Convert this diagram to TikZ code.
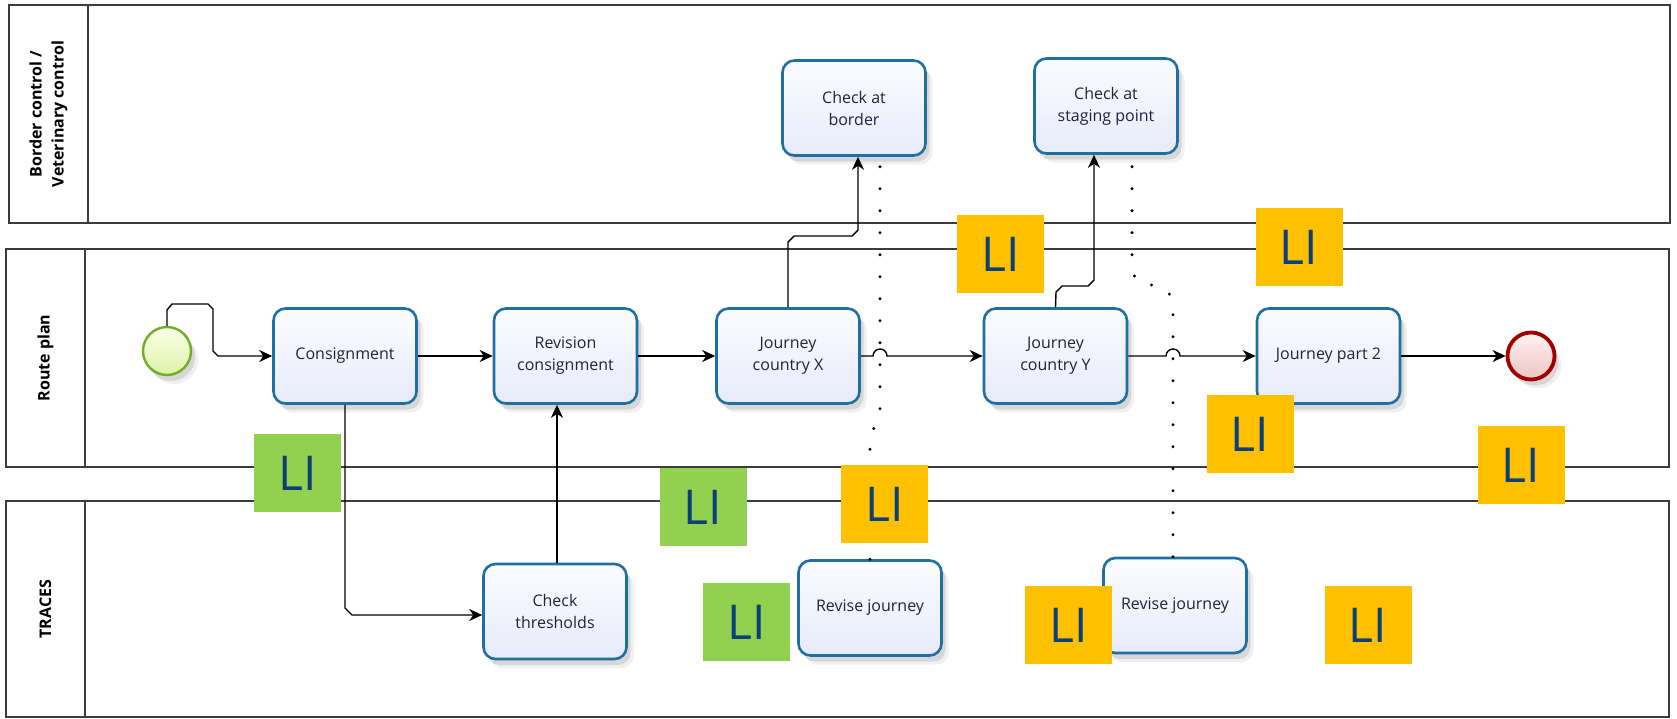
\documentclass[tikz,border=0pt]{standalone}
\usepackage{fontspec}
\setmainfont{Open Sans}
\usetikzlibrary{arrows.meta,shadows,calc}
\definecolor{lanecol}{HTML}{3C3C3C}
\definecolor{taskline}{HTML}{1F6FA3}
\definecolor{tasktop}{HTML}{FBFCFF}
\definecolor{taskbot}{HTML}{E7EBFA}
\definecolor{tasktext}{HTML}{22223A}
\definecolor{ligreen}{HTML}{92D050}
\definecolor{liorange}{HTML}{FFC000}
\definecolor{litext}{HTML}{0B3F7A}
\definecolor{startline}{HTML}{6FAE2A}
\definecolor{starttop}{HTML}{FBFFE8}
\definecolor{startbot}{HTML}{DDF2A8}
\definecolor{endline}{HTML}{A00000}
\definecolor{endtop}{HTML}{FFF2F2}
\definecolor{endbot}{HTML}{EEC4C4}
\begin{document}
\begin{tikzpicture}[x=1pt,y=-1pt,
  lane/.style={draw=lanecol,line width=1.6pt},
  lanelabel/.style={rotate=90,font=\fontsize{16}{22}\selectfont\bfseries,align=center,text=black},
  softshadow/.style={drop shadow={shadow xshift=4pt,shadow yshift=-6pt,opacity=0.10,fill=black},
                     drop shadow={shadow xshift=7pt,shadow yshift=-9pt,opacity=0.06,fill=black}},
  task/.style={rectangle,rounded corners=12pt,draw=taskline,line width=2.6pt,
    top color=tasktop,bottom color=taskbot,minimum width=143pt,minimum height=95pt,
    align=center,font=\fontsize{16}{22}\selectfont,text=tasktext,inner sep=2pt,softshadow},
  startev/.style={circle,draw=startline,line width=2.4pt,top color=starttop,bottom color=startbot,minimum size=48pt,inner sep=0pt,softshadow},
  endev/.style={circle,draw=endline,line width=3.8pt,top color=endtop,bottom color=endbot,minimum size=47pt,inner sep=0pt,softshadow},
  flow/.style={draw=black,line width=1.4pt,-{Stealth[length=13pt,width=12pt,inset=4pt]}},
  assoc/.style={draw=black,line width=3.3pt,line cap=round,dash pattern=on 0pt off 22pt},
  ligbox/.style={rectangle,fill=ligreen,minimum width=87pt,minimum height=78pt,inner sep=0pt,font=\fontsize{48}{50}\selectfont,text=litext},
  liobox/.style={ligbox,fill=liorange}
]
\useasboundingbox (0,0) rectangle (1677,718);
\fill[white] (0,0) rectangle (1677,718);

% lanes
\draw[lane] (9,5) rectangle (1670,223);
\draw[lane] (88,5) -- (88,223);
\draw[lane] (6,249) rectangle (1669,467);
\draw[lane] (85,249) -- (85,467);
\draw[lane] (6,501) rectangle (1669,717);
\draw[lane] (85,501) -- (85,717);
\node[lanelabel] (lab1) at (48.5,114) {Border control /\\Veterinary control};
\node[lanelabel] (lab2) at (45.5,358) {Route plan};
\node[lanelabel] (lab3) at (45.5,609) {TRACES};

% events and tasks
\node[startev] (st) at (167,351) {};
\node[task] (cons) at (345,356) {Consignment};
\node[task] (rev) at (565.5,356) {Revision\\consignment};
\node[task] (jx) at (788,356) {Journey\\country X};
\node[task] (jy) at (1055.5,356) {Journey\\country Y};
\node[task] (p2) at (1328.5,356) {Journey part 2};
\node[endev] (en) at (1531,356) {};
\node[task] (cb) at (854,108) {Check at\\border};
\node[task] (sp) at (1106,106) {Check at\\staging point};
\node[task] (thr) at (555,611.5) {Check\\thresholds};
\node[task] (rj1) at (870,608) {Revise journey};
\node[task] (rj2) at (1175,605.5) {Revise journey};

% helper coordinates
\coordinate (c1) at (352,615);
\coordinate (c2) at (557,0);
\coordinate (c3) at (858,236);
\coordinate (c4) at (1094,286);
\coordinate (d1) at (870,433);
\coordinate (d2) at (880,421);
\coordinate (e1) at (1173,298);
\coordinate (e2) at (1161,285);
\coordinate (e3) at (1140,285);
\coordinate (e4) at (1132,272);

% associations (dotted)
\draw[assoc] (rj1.north) -- (d1) -- (d2) -- (d2 |- cb.south);
\draw[assoc] (e1 |- rj2.north) -- (e1) -- (e2) -- (e3) -- (e4) -- (e4 |- sp.south);

% sequence flows
\draw[flow] (st.north) -- (167,310) -- (172,304) -- (208,304) -- (213,309) -- (213,351) -- (218,356) -- (cons.west);
\draw[flow] (cons.east) -- (rev.west);
\draw[flow] (rev.east) -- (jx.west);
\draw[flow] (jx.east) -- (873,356) arc[start angle=180,end angle=0,radius=7pt] -- (jy.west);
\draw[flow] (jy.east) -- (1166,356) arc[start angle=180,end angle=0,radius=7pt] -- (p2.west);
\draw[flow] (p2.east) -- (en.west);
\draw[flow] (cons.south) -- (345,608) -- (c1) -- (c1 -| thr.west);
\draw[flow] (c2 |- thr.north) -- (c2 |- rev.south);
\draw[flow] (jx.north) -- (788,242) -- (794,236) -- (852,236) -- (858,230) -- (c3 |- cb.south);
\draw[flow] (jy.north) -- (1056,292) -- (1062,286) -- (1088,286) -- (1094,280) -- (c4 |- sp.south);

% LI markers
\node[ligbox] (li1) at (297.5,473) {LI};
\node[ligbox] (li2) at (703,507) {LI};
\node[ligbox] (li3) at (746.5,622) {LI};
\node[liobox] (li4) at (884.5,504) {LI};
\node[liobox] (li5) at (1000.5,254) {LI};
\node[liobox] (li6) at (1299,247) {LI};
\node[liobox] (li7) at (1250,434) {LI};
\node[liobox] (li8) at (1521,465) {LI};
\node[liobox] (li9) at (1368,625) {LI};
\node[liobox] (li10) at (1068.5,625) {LI};
\end{tikzpicture}
\end{document}
